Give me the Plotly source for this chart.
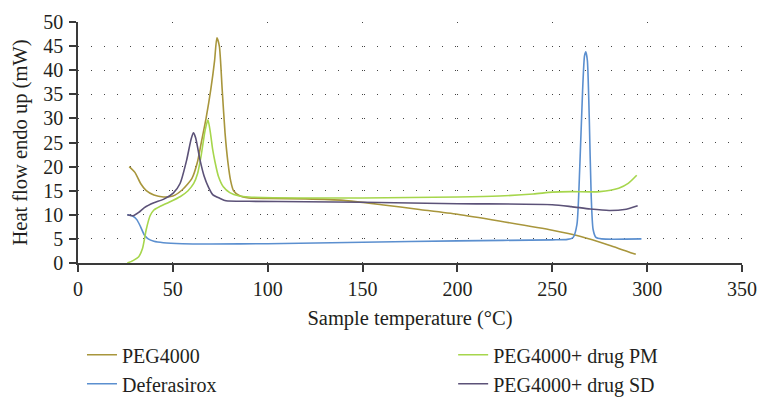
import plotly.graph_objects as go

# ---- data ----
peg_x = [27, 30, 33, 36, 40, 45, 50, 55, 60, 63, 65, 67.5, 70, 72, 73.2, 74.5, 76, 77.5, 79, 80.5, 82, 85, 90, 100, 120, 140, 160, 180, 200, 222, 250, 265, 280, 294]
peg_y = [20.0, 18.8, 16.5, 15.0, 14.1, 13.7, 13.9, 15.2, 17.5, 21, 25, 30, 36, 42, 46.7, 45, 36, 27, 21, 17, 15, 14, 13.5, 13.4, 13.3, 13.0, 12.1, 11.1, 10.1, 8.7, 6.8, 5.5, 3.7, 1.8]

def_x = [26, 29, 31, 33, 35, 37, 40, 45, 55, 70, 100, 150, 200, 250, 258, 261, 263, 264.5, 266, 267, 267.7, 268.5, 269.5, 270.5, 271.5, 273, 276, 297]
def_y = [10.0, 9.7, 9.0, 7.5, 5.8, 5.0, 4.5, 4.2, 4.0, 3.95, 4.0, 4.3, 4.6, 4.8, 4.9, 5.3, 8, 20, 36, 43, 43.8, 42, 30, 14, 7, 5.3, 5.0, 5.0]

pm_x = [26, 29, 32, 34, 36, 38, 40, 43, 48, 54, 58, 61, 63, 65, 67, 68.5, 69.8, 71, 72.2, 74, 76.6, 80, 85, 90, 120, 150, 200, 222, 240, 250, 260, 275, 285, 290, 294.5]
pm_y = [0.0, 0.5, 1.3, 3.0, 7.0, 9.8, 11.0, 11.7, 12.6, 13.8, 15.0, 16.5, 18.5, 22.5, 27.5, 29.7, 27, 23.5, 21, 18, 15.8, 14.6, 13.9, 13.7, 13.5, 13.5, 13.7, 13.9, 14.3, 14.7, 14.8, 14.8, 15.5, 16.5, 18.2]

sd_x = [26, 29, 32, 35, 40, 45, 50.2, 53.8, 57.3, 59.5, 60.8, 62, 64.3, 66.5, 68.7, 71, 74.9, 78, 90, 120, 150, 200, 250, 260, 270, 280, 288, 295]
sd_y = [10.0, 9.8, 10.5, 11.5, 12.5, 13.2, 14.5, 16.5, 21.4, 25.5, 27.0, 26.0, 21.4, 18.0, 15.8, 14.2, 13.4, 12.9, 12.8, 12.7, 12.6, 12.3, 12.1, 11.7, 11.2, 10.9, 11.1, 11.9]

x_ticks = [0, 50, 100, 150, 200, 250, 300, 350]
y_ticks = [0, 5, 10, 15, 20, 25, 30, 35, 40, 45, 50]

FONT = "Liberation Serif, Times New Roman, DejaVu Serif, serif"
TXT = "#231f20"

fig = go.Figure()
series = [
    ("PEG4000", peg_x, peg_y, "#a8963c", "legend", 1),
    ("Deferasirox", def_x, def_y, "#5b8fcf", "legend", 2),
    ("PEG4000+ drug PM", pm_x, pm_y, "#a6d64c", "legend2", 1),
    ("PEG4000+ drug SD", sd_x, sd_y, "#5c5278", "legend2", 2),
]
for name, xs, ys, col, leg, rank in series:
    fig.add_trace(go.Scatter(
        x=xs, y=ys, name=name, mode="lines",
        line=dict(color=col, width=1.6, shape="spline", smoothing=0.6),
        legend=leg, legendrank=rank, legendgroup=name,
    ))

axis_common = dict(
    showline=True, linecolor="#3a3a3a", linewidth=1.5,
    ticks="outside", ticklen=7, tickwidth=1.5, tickcolor="#3a3a3a",
    tickfont=dict(family=FONT, size=20, color=TXT),
    showgrid=True, gridcolor="#444444", gridwidth=1,
    zeroline=False, automargin=False,
)
fig.update_xaxes(**axis_common, range=[0, 350], tickvals=x_ticks,
                 griddash="1px,23px",
                 title=dict(text="Sample temperature (°C)", font=dict(family=FONT, size=20.5, color=TXT), standoff=12))
fig.update_yaxes(**axis_common, range=[0, 50], tickvals=y_ticks,
                 griddash="1px,12px", ticklabelstandoff=2,
                 title=dict(text="Heat flow endo up (mW)", font=dict(family=FONT, size=20.5, color=TXT), standoff=10))

leg_common = dict(
    orientation="v", xanchor="left", yanchor="top",
    font=dict(family=FONT, size=20, color=TXT),
    bgcolor="rgba(0,0,0,0)", tracegroupgap=0, itemwidth=30,
)
fig.update_layout(
    width=757, height=398,
    margin=dict(l=78, r=15, t=22, b=135, autoexpand=False),
    paper_bgcolor="white", plot_bgcolor="white",
    showlegend=True,
    legend=dict(**leg_common, x=0.006, y=-0.3),
    legend2=dict(**leg_common, x=0.565, y=-0.3),
)

fig.write_html("out.html", config={"displayModeBar": False},
               post_script="document.body.style.margin='0px';")
